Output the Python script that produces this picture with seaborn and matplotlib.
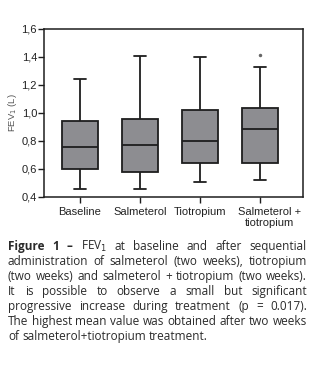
import numpy as np
import pandas as pd
import seaborn as sns
import matplotlib
matplotlib.use("Agg")
import matplotlib.pyplot as plt
from matplotlib.transforms import ScaledTranslation

# ---- data ----
categories = ["Baseline", "Salmeterol", "Tiotropium", "Salmeterol +\ntiotropium"]
whisker_low = [0.46, 0.46, 0.51, 0.52]
q1 = [0.60, 0.58, 0.64, 0.645]
median = [0.76, 0.775, 0.80, 0.885]
q3 = [0.94, 0.955, 1.02, 1.035]
whisker_high = [1.24, 1.405, 1.40, 1.33]
outlier_cat = ["Salmeterol +\ntiotropium"]
outlier_val = [1.415]
yticks = [0.4, 0.6, 0.8, 1.0, 1.2, 1.4, 1.6]
ytick_labels = ["0,4", "0,6", "0,8", "1,0", "1,2", "1,4", "1,6"]
ylabel = "FEV$_1$ (L)"

caption_lines = [
    [("Figure", "bold"), ("1", "bold"), ("–", "bold"), ("FEV$_1$", "normal"), ("at", "normal"),
     ("baseline", "normal"), ("and", "normal"), ("after", "normal"), ("sequential", "normal")],
    "administration of salmeterol (two weeks), tiotropium",
    "(two weeks) and salmeterol + tiotropium (two weeks).",
    "It is possible to observe a small but significant",
    "progressive increase during treatment (p = 0.017).",
    "The highest mean value was obtained after two weeks",
    "of salmeterol+tiotropium treatment.",
]

# Small table whose quartiles equal the values
rows = []
for c, lo, a, m, b, hi in zip(categories, whisker_low, q1, median, q3, whisker_high):
    for v in [lo, a, a, a, m, b, b, b, hi]:
        rows.append({"group": c, "FEV1": v})
df = pd.DataFrame(rows)
df_out = pd.DataFrame({"group": outlier_cat, "FEV1": outlier_val})

W, H = 322, 370
sns.set_style("ticks")
tick_font = ["Liberation Sans", "DejaVu Sans"]
plt.rcParams["font.family"] = tick_font

fig = plt.figure(figsize=(W / 100, H / 100), dpi=100)
ax = fig.add_axes([44 / W, 1 - 197 / H, (303 - 44) / W, (197 - 29) / H])

sns.boxplot(data=df, x="group", y="FEV1", order=categories, color="#8d8d91",
            saturation=1, linecolor="#1e1e1e", linewidth=1.3, width=0.6,
            whis=(0, 100), showfliers=False, capwidths=0.2, ax=ax)
sns.stripplot(data=df_out, x="group", y="FEV1", order=categories, jitter=False,
              color="#666666", marker="o", size=2.5, linewidth=0, ax=ax)

ax.set_xlim(-0.6, 3.72)
ax.set_ylim(0.4, 1.6)
ax.set_yticks(yticks)
ax.set_yticklabels(ytick_labels)
ax.set_xlabel("")
ax.set_ylabel(ylabel, fontsize=6.8, color="#555555", labelpad=2)
for s in ax.spines.values():
    s.set_visible(True)
    s.set_linewidth(1.1)
    s.set_color("#1e1e1e")
ax.tick_params(axis="both", direction="out", length=4, width=1, color="#1e1e1e",
               labelsize=8, labelcolor="#222222")
ax.tick_params(axis="y", pad=1)
ax.tick_params(axis="x", pad=3)
last = ax.get_xticklabels()[-1]
last.set_transform(last.get_transform() + ScaledTranslation(0.1, 0, fig.dpi_scale_trans))

# ---- caption (justified) ----
fig.canvas.draw()
renderer = fig.canvas.get_renderer()
cap_family = ["Open Sans", "DejaVu Sans"]
left_px, right_px = 8, 307
base0, step = 250.0, 15.0


def measure(t, w, size):
    tt = fig.text(0, 0, t, fontsize=size, fontweight=w, family=cap_family)
    bb = tt.get_window_extent(renderer)
    tt.remove()
    return bb.width


# size chosen so the naturally spaced line 6 fills the column
ref_w = measure(caption_lines[5], "normal", 10)
cap_size = 10 * (right_px - left_px) / ref_w * 0.99

for i, line in enumerate(caption_lines):
    tokens = line if isinstance(line, list) else [(t, "normal") for t in line.split()]
    widths = [measure(t, w, cap_size) for t, w in tokens]
    y = 1 - (base0 + i * step) / H
    justify = i < len(caption_lines) - 1
    if justify and len(tokens) > 1:
        gap = (right_px - left_px - sum(widths)) / (len(tokens) - 1)
    else:
        gap = measure("a a", "normal", cap_size) - 2 * measure("a", "normal", cap_size)
    x = left_px
    for (t, w), wd in zip(tokens, widths):
        fig.text(x / W, y, t, fontsize=cap_size, fontweight=w, family=cap_family,
                 color="#2a2a2a", va="baseline", ha="left")
        x += wd + gap

fig.savefig("out.png", dpi=100)
